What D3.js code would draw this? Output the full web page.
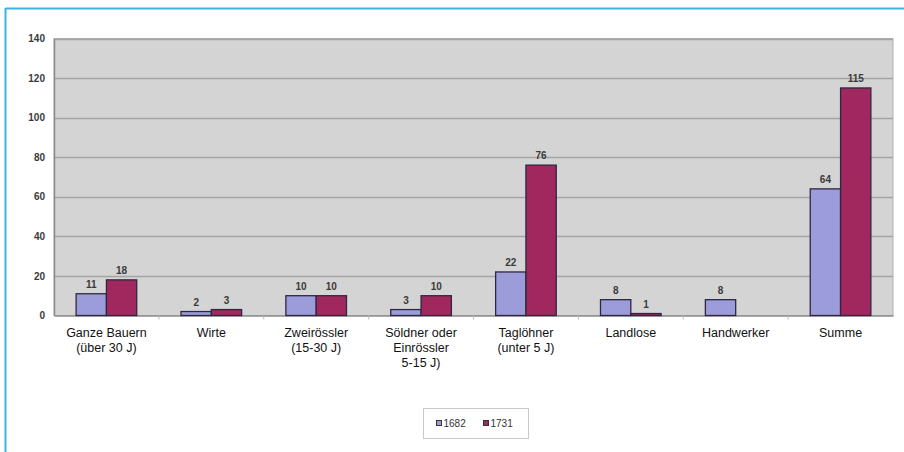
<!DOCTYPE html>
<html>
<head>
<meta charset="utf-8">
<script src="https://cdn.jsdelivr.net/npm/d3@7"></script>
<style>
  html, body { margin: 0; padding: 0; background: #fff; }
  svg { display: block; }
</style>
</head>
<body>
<svg id="chart" width="904" height="452"></svg>
<script>
const categories = [
  ["Ganze Bauern", "(über 30 J)"],
  ["Wirte"],
  ["Zweirössler", "(15-30 J)"],
  ["Söldner oder", "Einrössler", "5-15 J)"],
  ["Taglöhner", "(unter 5 J)"],
  ["Landlose"],
  ["Handwerker"],
  ["Summe"]
];
const seriesNames = ["1682", "1731"];
const values1682 = [11, 2, 10, 3, 22, 8, 8, 64];
const values1731 = [18, 3, 10, 10, 76, 1, null, 115];
const yTicks = [0, 20, 40, 60, 80, 100, 120, 140];
const colors = ["#9c9cda", "#a1285e"];

const svg = d3.select("#chart");
const W = 904, H = 452;
const plot = { left: 54, right: 893, top: 38.5, bottom: 315.5 };

// blue frame
svg.append("line").attr("x1", 5.5).attr("x2", W).attr("y1", 8.5).attr("y2", 8.5)
  .attr("stroke", "#3db3e8").attr("stroke-width", 2);
svg.append("line").attr("x1", 5.5).attr("x2", 5.5).attr("y1", 8).attr("y2", H)
  .attr("stroke", "#3db3e8").attr("stroke-width", 2);

const x = d3.scaleBand().domain(d3.range(categories.length))
  .range([plot.left, plot.right]).paddingInner(0).paddingOuter(0);
const y = d3.scaleLinear().domain([0, 140]).range([plot.bottom, plot.top]);
const groupWidth = x.bandwidth() * 0.578;
const xs = d3.scaleBand().domain(seriesNames).range([0, groupWidth]);

// plot background
svg.append("rect").attr("x", plot.left).attr("y", plot.top)
  .attr("width", plot.right - plot.left).attr("height", plot.bottom - plot.top)
  .attr("fill", "#d4d4d4").attr("stroke", "#b0b0b0").attr("stroke-width", 1);

// gridlines
svg.append("g").selectAll("line").data(yTicks.filter(d => d > 0)).join("line")
  .attr("x1", plot.left).attr("x2", plot.right)
  .attr("y1", d => Math.round(y(d)) + 0.5).attr("y2", d => Math.round(y(d)) + 0.5)
  .attr("stroke", "#a4a4a4").attr("stroke-width", 1.6);

// y axis
const yAxis = d3.axisLeft(y).tickValues(yTicks).tickSize(0).tickPadding(9);
const yg = svg.append("g").attr("transform", `translate(${plot.left},0)`).call(yAxis);
yg.select(".domain").attr("stroke", "#8c8c8c").attr("stroke-width", 1.5);
yg.selectAll("text").attr("font-family", "Liberation Sans, Arial, sans-serif")
  .attr("font-size", 10).attr("font-weight", "bold").attr("fill", "#3a3a3a");

// x axis line and ticks
const xAxis = d3.axisBottom(x).tickSize(0).tickFormat("");
const xg = svg.append("g").attr("transform", `translate(0,${plot.bottom})`).call(xAxis);
xg.select(".domain").attr("stroke", "#8c8c8c").attr("stroke-width", 1.5);
xg.selectAll(".tick").remove();
svg.append("g").selectAll("line").data(d3.range(1, categories.length)).join("line")
  .attr("x1", d => x(d)).attr("x2", d => x(d))
  .attr("y1", plot.bottom).attr("y2", plot.bottom + 4)
  .attr("stroke", "#b8b8b8").attr("stroke-width", 1);

// category labels
const labG = svg.append("g").attr("font-family", "Liberation Sans, Arial, sans-serif")
  .attr("font-size", 12.5).attr("fill", "#111").attr("text-anchor", "middle");
categories.forEach((lines, i) => {
  const t = labG.append("text").attr("x", x(i) + x.bandwidth() / 2).attr("y", plot.bottom + 21);
  lines.forEach((ln, j) => {
    t.append("tspan").attr("x", x(i) + x.bandwidth() / 2).attr("dy", j === 0 ? 0 : 15).text(ln);
  });
});

// bars
const series = [values1682, values1731];
series.forEach((vals, si) => {
  const g = svg.append("g");
  const data = vals.map((v, i) => ({ v, i })).filter(d => d.v !== null);
  g.selectAll("rect").data(data).join("rect")
    .attr("x", d => x(d.i) + (x.bandwidth() - groupWidth) / 2 + xs(seriesNames[si]))
    .attr("y", d => y(d.v))
    .attr("width", xs.bandwidth())
    .attr("height", d => Math.max(0, y(0) - y(d.v)))
    .attr("fill", colors[si]).attr("stroke", "#2e2740").attr("stroke-width", 1.3);
  g.selectAll("text").data(data).join("text")
    .attr("x", d => x(d.i) + (x.bandwidth() - groupWidth) / 2 + xs(seriesNames[si]) + xs.bandwidth() / 2)
    .attr("y", d => y(d.v) - 6)
    .attr("text-anchor", "middle")
    .attr("font-family", "Liberation Sans, Arial, sans-serif")
    .attr("font-size", 10).attr("font-weight", "bold").attr("fill", "#3a3a3a")
    .text(d => d.v);
});

// legend
const lg = svg.append("g").attr("transform", "translate(423.5,408.5)");
lg.append("rect").attr("width", 105).attr("height", 30)
  .attr("fill", "#fff").attr("stroke", "#c8c8c8").attr("stroke-width", 1);
const legendPos = [13, 60];
seriesNames.forEach((s, i) => {
  lg.append("rect").attr("x", legendPos[i]).attr("y", 12).attr("width", 5).attr("height", 5)
    .attr("fill", colors[i]).attr("stroke", "#333").attr("stroke-width", 1);
  lg.append("text").attr("x", legendPos[i] + 7).attr("y", 18.5)
    .attr("font-family", "Liberation Sans, Arial, sans-serif")
    .attr("font-size", 10).attr("fill", "#333").text(s);
});
</script>
</body>
</html>
